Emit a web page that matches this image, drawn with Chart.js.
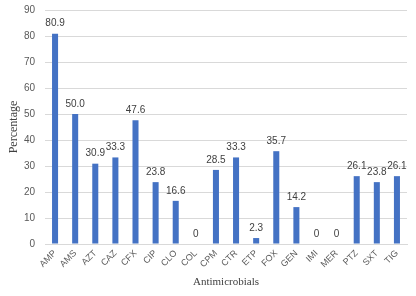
<!DOCTYPE html>
<html><head><meta charset="utf-8">
<script src="https://cdn.jsdelivr.net/npm/chart.js@4/dist/chart.umd.min.js"></script>
<style>html,body{margin:0;padding:0;background:#fff}#wrap{width:416px;height:296px}</style>
</head><body><div id="wrap"><canvas id="c" width="416" height="296"></canvas></div>
<script>
const categories = ["AMP","AMS","AZT","CAZ","CFX","CIP","CLO","COL","CPM","CTR","ETP","FOX","GEN","IMI","MER","PTZ","SXT","TIG"];
const percentages = [80.9,50.0,30.9,33.3,47.6,23.8,16.6,0,28.5,33.3,2.3,35.7,14.2,0,0,26.1,23.8,26.1];
const valueLabels = ["80.9","50.0","30.9","33.3","47.6","23.8","16.6","0","28.5","33.3","2.3","35.7","14.2","0","0","26.1","23.8","26.1"];
const yTicks = [0,10,20,30,40,50,60,70,80,90];

const labelPlugin = {
  id: 'valueLabels',
  afterDatasetsDraw(chart) {
    const ctx = chart.ctx;
    const meta = chart.getDatasetMeta(0);
    ctx.save();
    ctx.font = '10px "Liberation Sans", Arial, sans-serif';
    ctx.fillStyle = '#404040';
    ctx.textAlign = 'center';
    ctx.textBaseline = 'bottom';
    meta.data.forEach((bar, i) => {
      ctx.fillText(valueLabels[i], bar.x, bar.y - 5);
    });
    ctx.restore();
  }
};

new Chart(document.getElementById('c'), {
  type: 'bar',
  data: {
    labels: categories,
    datasets: [{
      data: percentages,
      backgroundColor: '#4472C4',
      borderWidth: 0,
      categoryPercentage: 0.6,
      barPercentage: 0.5
    }]
  },
  options: {
    responsive: false,
    animation: false,
    devicePixelRatio: 1,
    layout: { padding: { top: 10, right: 9, left: 4, bottom: 7 } },
    plugins: { legend: { display: false }, tooltip: { enabled: false } },
    scales: {
      x: {
        grid: { display: false, drawTicks: false },
        border: { display: true, color: '#d9d9d9', width: 1 },
        ticks: {
          color: '#595959',
          font: { family: '"Liberation Sans", Arial, sans-serif', size: 9 },
          minRotation: 45, maxRotation: 45,
          padding: 4,
          autoSkip: false
        },
        title: {
          display: true,
          text: 'Antimicrobials',
          color: '#404040',
          font: { family: '"Liberation Serif", "Times New Roman", serif', size: 11 },
          padding: { top: 2, bottom: 0 }
        }
      },
      y: {
        min: 0, max: 90,
        afterBuildTicks(scale) { scale.ticks = yTicks.map(v => ({ value: v })); },
        afterFit(scale) { scale.width = 41; scale.paddingTop = 0; scale.paddingBottom = 0; },
        grid: { color: '#d9d9d9', drawTicks: false },
        border: { display: false },
        ticks: {
          color: '#595959',
          font: { family: '"Liberation Sans", Arial, sans-serif', size: 10 },
          padding: 10
        },
        title: {
          display: true,
          text: 'Percentage',
          color: '#404040',
          font: { family: '"Liberation Serif", "Times New Roman", serif', size: 12 },
          padding: { top: 3, bottom: 2 }
        }
      }
    }
  },
  plugins: [labelPlugin]
});
</script>
</body></html>
